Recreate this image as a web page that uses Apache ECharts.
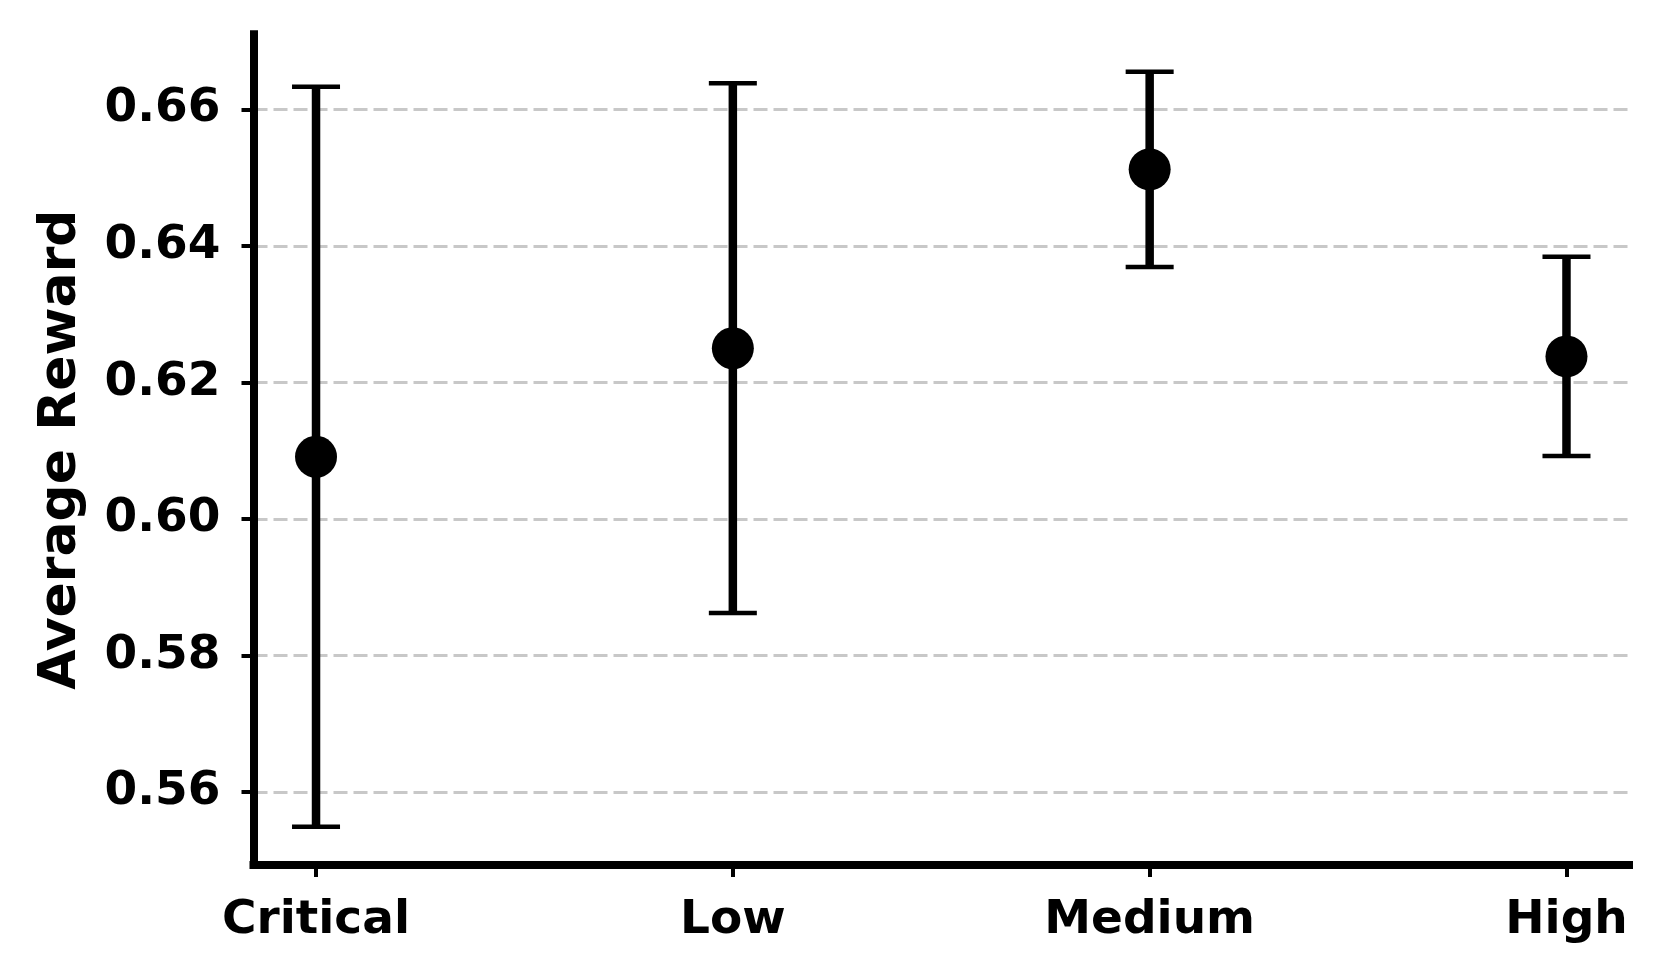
<!DOCTYPE html>
<html>
<head>
<meta charset="utf-8">
<script src="https://cdn.jsdelivr.net/npm/echarts@6/dist/echarts.min.js"></script>
<style>
html,body{margin:0;padding:0;background:#fff;}
#chart{width:1663px;height:979px;}
</style>
</head>
<body>
<div id="chart"></div>
<script>
const categories = ['Critical', 'Low', 'Medium', 'High'];
const means = [0.6091, 0.6250, 0.6512, 0.6238];
const errors = [0.0542, 0.0388, 0.0143, 0.0146];
const yTicks = [0.56, 0.58, 0.60, 0.62, 0.64, 0.66];
const xTicks = [0, 1, 2, 3];

const FONT = '"DejaVu Sans", sans-serif';
const chart = echarts.init(document.getElementById('chart'));

const pointData = means.map((m, i) => [i, m]);
const errData = means.map((m, i) => [i, m, errors[i]]);

chart.setOption({
  animation: false,
  backgroundColor: '#ffffff',
  grid: { left: 253.5, right: 34, top: 34.2, bottom: 114, containLabel: false },
  xAxis: {
    type: 'value',
    min: -0.15,
    max: 3.15,
    axisLine: { show: true, onZero: false, lineStyle: { color: '#000', width: 8, cap: 'square' } },
    axisTick: { show: true, customValues: xTicks, length: 12, lineStyle: { color: '#000', width: 4 } },
    axisLabel: {
      customValues: xTicks,
      formatter: v => categories[Math.round(v)],
      fontFamily: FONT, fontWeight: 'bold', fontSize: 47, color: '#000', margin: 32
    },
    splitLine: { show: false }
  },
  yAxis: {
    type: 'value',
    min: 0.5493,
    max: 0.6710,
    name: 'Average Reward',
    nameLocation: 'middle',
    nameGap: 166,
    nameRotate: 90,
    nameTextStyle: { fontFamily: FONT, fontWeight: 'bold', fontSize: 52, color: '#000' },
    axisLine: { show: true, onZero: false, lineStyle: { color: '#000', width: 8, cap: 'square' } },
    axisTick: { show: true, customValues: yTicks, length: 12, lineStyle: { color: '#000', width: 4 } },
    axisLabel: {
      customValues: yTicks,
      formatter: v => v.toFixed(2),
      fontFamily: FONT, fontWeight: 'bold', fontSize: 47, color: '#000', margin: 33
    },
    splitLine: { show: true, lineStyle: { color: '#c8c8c8', width: 3, type: [14, 6] } }
  },
  series: [
    {
      type: 'custom',
      data: errData,
      z: 3,
      renderItem: (params, api) => {
        const x = api.value(0), m = api.value(1), e = api.value(2);
        const top = api.coord([x, m + e]);
        const bot = api.coord([x, m - e]);
        const half = 24;
        const st = { stroke: '#000', lineWidth: 8.5 };
        const cs = { stroke: '#000', lineWidth: 4.5 };
        return {
          type: 'group',
          children: [
            { type: 'line', shape: { x1: top[0], y1: top[1], x2: bot[0], y2: bot[1] }, style: st },
            { type: 'line', shape: { x1: top[0] - half, y1: top[1], x2: top[0] + half, y2: top[1] }, style: cs },
            { type: 'line', shape: { x1: bot[0] - half, y1: bot[1], x2: bot[0] + half, y2: bot[1] }, style: cs }
          ]
        };
      }
    },
    {
      type: 'scatter',
      data: pointData,
      symbol: 'circle',
      symbolSize: 42,
      z: 4,
      itemStyle: { color: '#000', opacity: 1 }
    }
  ]
});
</script>
</body>
</html>
